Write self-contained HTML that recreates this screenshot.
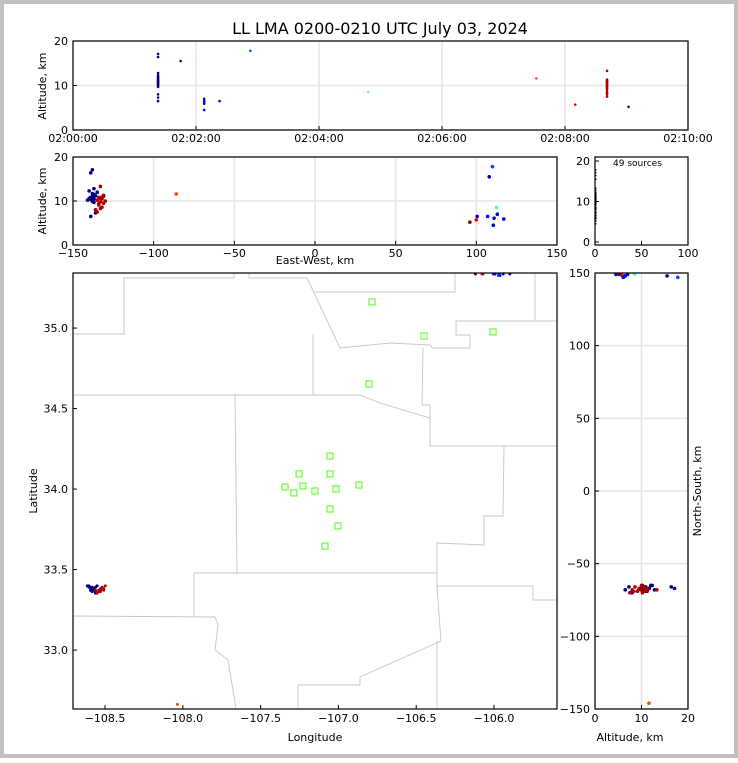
<!DOCTYPE html>
<html><head><meta charset="utf-8"><style>
body{margin:0;background:#fff}
svg text{font-family:"DejaVu Sans","Liberation Sans",sans-serif;font-size:11px;fill:#000}
</style></head><body>
<svg id="s" width="738" height="758" xmlns="http://www.w3.org/2000/svg">
<rect x="2" y="2" width="734" height="754" fill="#fff" stroke="#c0c0c0" stroke-width="4"/>
<text x="380" y="34" text-anchor="middle" style="font-size:16px">LL LMA 0200-0210 UTC July 03, 2024</text>
<g id="g"></g>
</svg>
<script>
// source data (time seconds after 02:00:00, east-west km, north-south km, altitude km)
const times=[83,83,83,83,83,83,83,83,83,83,83,83,83,83,83,83,83,83,83,83,105,128,128,128,128,128,143,173,288,452,490,521,521,521,521,521,521,521,521,521,521,521,521,521,521,521,521,521,542];
const ewKm=[-138,-139,-137,-140,-138,-136,-139,-137,-141,-138,-136,-139,-137,-140,-138,-137,-135,-139,-138,-136,108,113,100.5,111,110.5,117,107,110,112.5,-86,100,-133,-131,-134,-132,-135,-133,-131,-134,-132,-136,-133,-135,-130,-134,-132,-133,-131,96];
const nsKm=[-67,-66,-68,-65,-67,-69,-66,-68,-65,-67,-66,-68,-67,-66,-69,-67,-65,-68,-66,-70,148,149,148,147,149,148,148,147,150,-146,149,-68,-67,-69,-66,-70,-68,-67,-69,-66,-68,-67,-70,-65,-68,-67,-69,-68,149];
const altKm=[17.1,16.4,12.8,12.3,11.7,11.2,10.8,10.5,10.2,9.9,7.3,6.5,11.5,10.6,11.0,9.7,12.0,10.3,10.9,8.0,15.5,7.0,6.5,6.1,4.5,5.9,6.5,17.8,8.5,11.6,5.7,13.3,11.1,10.8,10.5,10.2,9.8,9.5,9.1,8.6,8.0,10.6,7.5,10.0,9.4,10.9,8.3,11.3,5.2];
const stationLon=[-106.784,-106.45,-106.006,-106.803,-107.054,-107.253,-107.054,-107.343,-107.228,-107.286,-107.151,-107.016,-106.868,-107.054,-107.003,-107.086];
const stationLat=[35.162,34.951,34.976,34.653,34.205,34.094,34.094,34.013,34.019,33.976,33.988,34.001,34.025,33.876,33.771,33.646];
const timeTicks=["02:00:00","02:02:00","02:04:00","02:06:00","02:08:00","02:10:00"];

const NS="http://www.w3.org/2000/svg";const G=document.getElementById('g');
function el(t,a,p){const e=document.createElementNS(NS,t);for(const k in a)e.setAttribute(k,a[k]);(p||G).appendChild(e);return e;}
function lin(d0,d1,r0,r1){return v=>r0+(v-d0)*(r1-r0)/(d1-d0);}
function jet(v){v=Math.max(0,Math.min(1,v));const c=x=>Math.round(255*Math.max(0,Math.min(1,1.5-Math.abs(4*v-x))));return `rgb(${c(3)},${c(2)},${c(1)})`;}
const tMin=Math.min(...times),tMax=Math.max(...times);
const col=t=>jet((t-tMin)/(tMax-tMin));
function frame(x,y,w,h,name){const r=el('rect',{x,y,width:w,height:h,fill:'none',stroke:'#000','stroke-width':1.2});}
function grid(x1,y1,x2,y2){const l=el('line',{x1,y1,x2,y2,stroke:'#e6e6e6','stroke-width':1.5});}
function tick(x1,y1,x2,y2){const l=el('line',{x1,y1,x2,y2,stroke:'#000','stroke-width':1});}
function txt(x,y,s,anchor,name,extra){const t=el('text',Object.assign({x,y,'text-anchor':anchor||'middle'},extra||{}));t.textContent=s;return t;}
function dot(x,y,c,r){const d=el('circle',{cx:x,cy:y,r:r||1.6,fill:c});}

// Panel 1: altitude vs time
{const X=lin(0,600,73,688),Y=lin(0,20,130,41);
[0,120,240,360,480,600].forEach((v,i)=>{grid(X(v),41,X(v),130);tick(X(v),130,X(v),126);txt(X(v),142,timeTicks[i],'middle','time-tick-label');});
[0,10,20].forEach(v=>{grid(73,Y(v),688,Y(v));tick(73,Y(v),77,Y(v));txt(68,Y(v)+4,v,'end','alt-tick-label');});
times.forEach((t,i)=>dot(X(t),Y(altKm[i]),col(t),1.3));
frame(73,41,615,89,'time-height-panel');
txt(46,86,'Altitude, km','middle','y-axis-title',{transform:'rotate(-90 46 86)'});}

// Panel 2: altitude vs east-west
{const X=lin(-150,150,73,557),Y=lin(0,20,245,157);
[-150,-100,-50,0,50,100,150].forEach(v=>{grid(X(v),157,X(v),245);tick(X(v),245,X(v),241);txt(X(v),257,v<0?'\u2212'+(-v):v,'middle','ew-tick-label');});
[0,10,20].forEach(v=>{grid(73,Y(v),557,Y(v));tick(73,Y(v),77,Y(v));txt(68,Y(v)+4,v,'end','alt-tick-label');});
times.forEach((t,i)=>dot(X(ewKm[i]),Y(altKm[i]),col(t),1.8));
frame(73,157,484,88,'ew-height-panel');
txt(315,264,'East-West, km','middle','x-axis-title');
txt(46,201,'Altitude, km','middle','y-axis-title',{transform:'rotate(-90 46 201)'});}

// Panel 3: histogram
{const X=lin(0,100,595,688),Y=lin(0,20,242,161);
[0,50,100].forEach(v=>{tick(X(v),245,X(v),241);txt(X(v),257,v,'middle','count-tick-label');});
[0,10,20].forEach(v=>{tick(595,Y(v),599,Y(v));txt(590,Y(v)+4,v,'end','alt-tick-label');});
altKm.forEach(a=>dot(X(0.8),Y(a),'#000',0.8));
frame(595,157,93,88,'histogram-panel');
txt(613,166,'49 sources','start','source-count',{style:'font-size:9px'});}

// Map
const mapX=lin(-108.706,-105.595,73,557),mapY=lin(32.634,35.342,709,273);
const kmLon=ew=>-107.13+ew/95,kmLat=ns=>33.99+ns/110;
{const bounds=[
"73,334 124,334 124,278 234,278 234,273","249,273 249,278 307,278 340,348 390,343 431,345 432,348 470,348 470,335 456,335 456,321 535,321 535,273",
"455,273 455,292 313,292","313,334 313,395","73,395 360,395 380,403 430,418 430,405 422,405 423,348","430,418 430,446 557,446","535,321 557,321",
"235,395 237,573","194,573 437,573 437,586 533,586 533,600 557,600","504,446 503,516 484,516 484,545 437,543 437,573","194,573 194,617",
"73,616 215,617 218,625 215,650 228,660 236,709","437,586 441,641 360,677 360,685 298,685 298,709","437,641 437,709"];
bounds.forEach(p=>{const l=el('polyline',{points:p,fill:'none',stroke:'#c8c8c8','stroke-width':0.9});});
stationLon.forEach((lo,i)=>{const r=el('rect',{x:mapX(lo)-3,y:mapY(stationLat[i])-3,width:6,height:6,fill:'none',stroke:'#66ff33','stroke-width':1.2});});
times.forEach((t,i)=>{const y=mapY(kmLat(nsKm[i]));if(y>=272)dot(mapX(kmLon(ewKm[i])),Math.max(274,y),col(t),1.5);});
[-108.5,-108,-107.5,-107,-106.5,-106].forEach(v=>{tick(mapX(v),709,mapX(v),705);txt(mapX(v),722,'\u2212'+(-v).toFixed(1),'middle','lon-tick-label');});
[33,33.5,34,34.5,35].forEach(v=>{tick(73,mapY(v),77,mapY(v));txt(68,mapY(v)+4,v.toFixed(1),'end','lat-tick-label');});
frame(73,273,484,436,'map-panel');
txt(315,741,'Longitude','middle','x-axis-title');
txt(37,491,'Latitude','middle','y-axis-title',{transform:'rotate(-90 37 491)'});}

// Right: NS vs altitude
{const X=lin(0,20,595,688),Y=lin(-150,150,709,273);
[0,10,20].forEach(v=>{grid(X(v),273,X(v),709);tick(X(v),709,X(v),705);txt(X(v),722,v,'middle','alt-tick-label');});
[-150,-100,-50,0,50,100,150].forEach(v=>{grid(595,Y(v),688,Y(v));tick(595,Y(v),599,Y(v));txt(590,Y(v)+4,v<0?'\u2212'+(-v):v,'end','ns-tick-label');});
times.forEach((t,i)=>dot(X(altKm[i]),Math.max(274,Y(nsKm[i])),col(t),1.8));
frame(595,273,93,436,'ns-height-panel');
txt(630,741,'Altitude, km','middle','x-axis-title');
txt(701,491,'North-South, km','middle','y-axis-title',{transform:'rotate(-90 701 491)'});}
</script>
</body></html>
